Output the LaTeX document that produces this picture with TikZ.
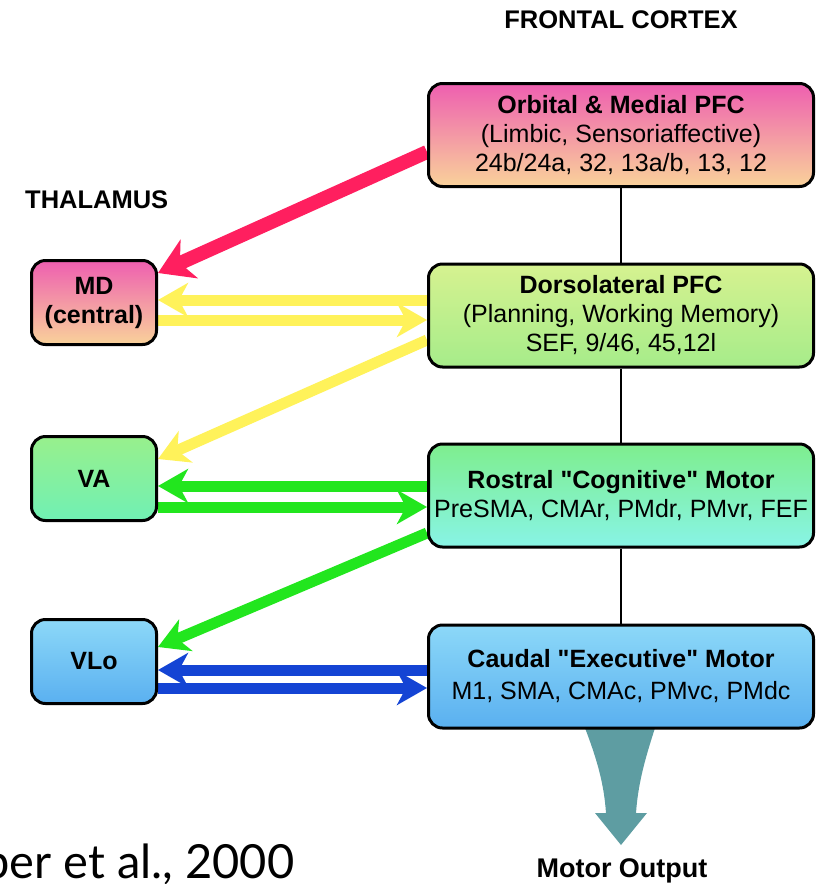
\documentclass[tikz,border=0pt]{standalone}
\usepackage{fontspec}
\setmainfont{Liberation Sans}
\newfontfamily\latofont{Lato}
\usetikzlibrary{arrows.meta,backgrounds}
\definecolor{orbT}{HTML}{EE5FB0}
\definecolor{orbB}{HTML}{F9D29A}
\definecolor{dlT}{HTML}{D6F290}
\definecolor{dlB}{HTML}{A6EC8A}
\definecolor{vaT}{HTML}{98F08C}
\definecolor{vaB}{HTML}{70F0B4}
\definecolor{rosT}{HTML}{7EEE8E}
\definecolor{rosB}{HTML}{88F4E6}
\definecolor{vloT}{HTML}{8CD8F8}
\definecolor{vloB}{HTML}{5AB0F0}
\definecolor{pinkA}{HTML}{FF1F5F}
\definecolor{yelA}{HTML}{FFF25A}
\definecolor{grnA}{HTML}{22E61E}
\definecolor{bluA}{HTML}{1444D4}
\definecolor{greyA}{HTML}{5E9DA2}
\begin{document}
\begin{tikzpicture}[x=1pt,y=-1pt,
  box/.style={draw=black, line width=3pt, rounded corners=14pt, inner sep=0pt,
    align=center, font=\fontsize{25}{29}\selectfont},
  fbox/.style={box, minimum width=385pt, minimum height=103pt},
  tbox/.style={box, minimum width=125pt, minimum height=84pt},
  fat/.style={line width=11pt, -{Stealth[length=30pt,width=34pt,inset=9pt]}},
  lbl/.style={font=\fontsize{25.5}{29}\selectfont\bfseries, inner sep=0pt}
]
\useasboundingbox (0,0) rectangle (818,884);

\node[lbl, anchor=base] (fc) at (621,28) {FRONTAL CORTEX};
\node[lbl, anchor=base west] (th) at (25,208) {THALAMUS};

\node[fbox, top color=orbT, bottom color=orbB] (orb) at (621,135)
  {\textbf{Orbital \& Medial PFC}\\(Limbic, Sensoriaffective)\\24b/24a, 32, 13a/b, 13, 12};
\node[fbox, top color=dlT, bottom color=dlB] (dl) at (621,315.5)
  {\textbf{Dorsolateral PFC}\\(Planning, Working Memory)\\SEF, 9/46, 45,12l};
\node[fbox, top color=rosT, bottom color=rosB] (ros) at (621,495.5)
  {\textbf{Rostral \textquotedbl Cognitive\textquotedbl{} Motor}\\PreSMA, CMAr, PMdr, PMvr, FEF};
\node[fbox, top color=vloT, bottom color=vloB] (cau) at (621,676.5)
  {\textbf{Caudal \textquotedbl Executive\textquotedbl{} Motor}\\[3pt]M1, SMA, CMAc, PMvc, PMdc};

\node[tbox, top color=orbT, bottom color=orbB] (md) at (94,302.5)
  {\textbf{MD}\\\textbf{(central)}};
\node[tbox, top color=vaT, bottom color=vaB] (va) at (94,478.5) {\textbf{VA}};
\node[tbox, top color=vloT, bottom color=vloB] (vlo) at (94,661.5) {\textbf{VLo}};

\node[inner sep=0pt, anchor=base, font=\fontsize{27}{30}\selectfont\bfseries] (mo) at (622,877) {Motor Output};
\node[inner sep=0pt, anchor=base west, font=\latofont\fontsize{47}{52}\selectfont] (ref) at (-17,878) {per et al., 2000};

\begin{pgfonlayer}{background}
  \draw[line width=2pt] (orb.south) -- (dl.north);
  \draw[line width=2pt] (dl.south) -- (ros.north);
  \draw[line width=2pt] (ros.south) -- (cau.north);
  \fill[greyA] (585,728) .. controls (598,762) and (604,785) .. (606,813) -- (595,813)
    -- (621,845) -- (647,813) -- (636,813) .. controls (638,785) and (644,762) .. (655,728) -- cycle;
  \draw[pinkA, line width=14pt, -{Stealth[length=34pt,width=42pt,inset=10pt]}]
    (orb.west |- 0,152) -- (md.east |- 0,273);
  \draw[fat, yelA] (dl.west |- 0,300) -- (md.east |- 0,300);
  \draw[fat, yelA] (md.east |- 0,320) -- (dl.west |- 0,320);
  \draw[fat, yelA] (dl.west |- 0,340) -- (va.east |- 0,459);
  \draw[fat, grnA] (ros.west |- 0,486) -- (va.east |- 0,486);
  \draw[fat, grnA] (va.east |- 0,507) -- (ros.west |- 0,507);
  \draw[fat, grnA] (ros.west |- 0,533) -- (vlo.east |- 0,647);
  \draw[fat, bluA] (cau.west |- 0,670) -- (vlo.east |- 0,670);
  \draw[fat, bluA] (vlo.east |- 0,688) -- (cau.west |- 0,688);
\end{pgfonlayer}
\end{tikzpicture}
\end{document}
